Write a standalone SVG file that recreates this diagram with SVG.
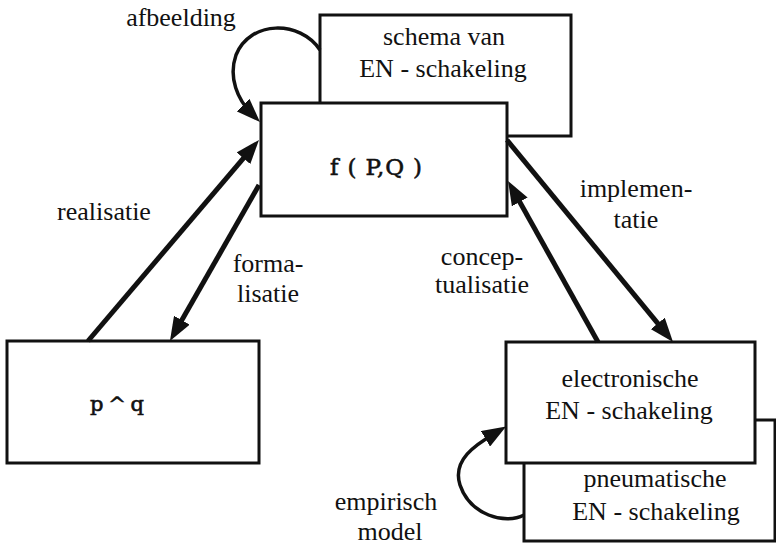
<svg xmlns="http://www.w3.org/2000/svg" width="776" height="545" viewBox="0 0 776 545">
<style>
.box{fill:#fff;stroke:#111;stroke-width:3}
.t{font-family:"Liberation Serif","Tinos","Nimbus Roman","FreeSerif","DejaVu Serif",serif;font-size:26px;fill:#111;text-anchor:middle}
.m{font-family:"DejaVu Serif",serif;font-size:23px;fill:#111;stroke:#111;stroke-width:0.6}
.c{fill:none;stroke:#111;stroke-width:5}
.l{fill:none;stroke:#111;stroke-width:3.5}
</style>
<defs>
<marker id="ah" viewBox="0 0 24 18" refX="12" refY="9" markerWidth="24" markerHeight="18" markerUnits="userSpaceOnUse" orient="auto">
<path d="M0,0 L24,9 L0,18 z" fill="#111"/>
</marker>
</defs>
<rect width="776" height="545" fill="#fff"/>
<g id="schema">
<rect class="box" x="320" y="15" width="251" height="121"/>
<text class="t" x="444" y="45">schema van</text>
<text class="t" x="443" y="77">EN - schakeling</text>
</g>
<g id="fpq">
<rect class="box" x="261" y="103" width="246" height="113"/>
<text class="m" x="330" y="175" textLength="92" lengthAdjust="spacing">f ( P,Q )</text>
</g>
<g id="pq">
<rect class="box" x="7" y="341" width="252" height="122"/>
<text class="m" x="90" y="411" style="font-size:21px" textLength="54" lengthAdjust="spacing">p ^ q</text>
</g>
<g id="pneumatisch">
<rect class="box" x="524" y="420" width="251" height="121"/>
<text class="t" x="655" y="487">pneumatische</text>
<text class="t" x="656" y="520">EN - schakeling</text>
</g>
<g id="electronisch">
<rect class="box" x="506" y="342" width="249" height="121"/>
<text class="t" x="630" y="387">electronische</text>
<text class="t" x="629" y="419">EN - schakeling</text>
</g>
<g id="connectors">
<path class="l" d="M320,50 C300,20 250,20 236,55 C228,78 238,100 251.5,113.5" marker-end="url(#ah)"/>
<path class="c" d="M88,341 L251.2,149.1" marker-end="url(#ah)"/>
<path class="c" d="M259,185 L175.9,330.6" marker-end="url(#ah)"/>
<path class="c" d="M507,140 L665.4,332.7" marker-end="url(#ah)"/>
<path class="c" d="M598,342 L513.9,191.5" marker-end="url(#ah)"/>
<path class="l" d="M524,515 C505,525 470,515 460,485 C452,460 475,445 495.8,432.7" marker-end="url(#ah)"/>
</g>
<g id="labels">
<text class="t" x="181" y="26">afbeelding</text>
<text class="t" x="104" y="220">realisatie</text>
<text class="t" x="268" y="272">forma-</text>
<text class="t" x="268" y="302">lisatie</text>
<text class="t" x="636" y="197">implemen-</text>
<text class="t" x="636" y="228">tatie</text>
<text class="t" x="482" y="265">concep-</text>
<text class="t" x="482" y="293">tualisatie</text>
<text class="t" x="386" y="510">empirisch</text>
<text class="t" x="390" y="540">model</text>
</g>
</svg>
